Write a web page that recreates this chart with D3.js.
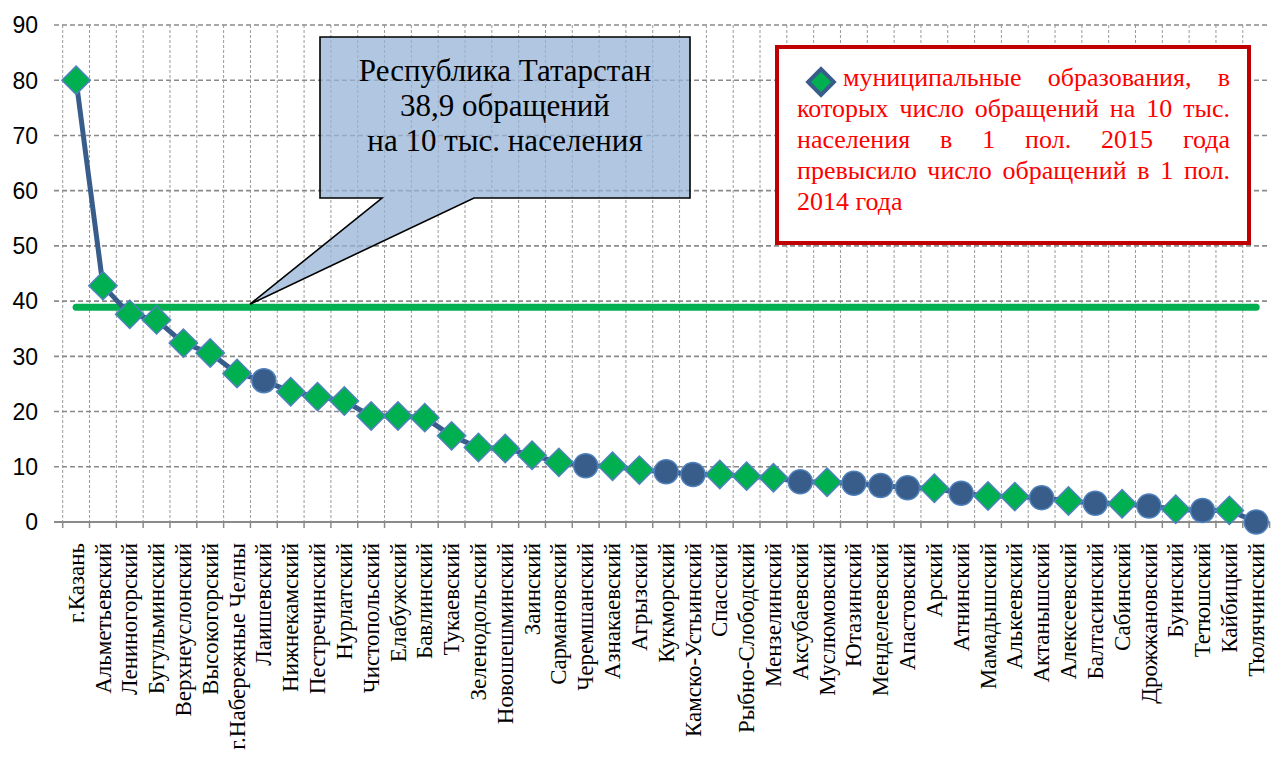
<!DOCTYPE html>
<html>
<head>
<meta charset="utf-8">
<script src="https://cdn.jsdelivr.net/npm/d3@7"></script>
<style>
  body { margin: 0; background: #fff; }
  svg { display: block; }
</style>
</head>
<body>
<div id="chart"></div>
<script>
const categories = ["г.Казань", "Альметьевский", "Лениногорский", "Бугульминский", "Верхнеуслонский",
    "Высокогорский", "г.Набережные Челны", "Лаишевский", "Нижнекамский", "Пестречинский",
    "Нурлатский", "Чистопольский", "Елабужский", "Бавлинский", "Тукаевский",
    "Зеленодольский", "Новошешминский", "Заинский", "Сармановский", "Черемшанский",
    "Азнакаевский", "Агрызский", "Кукморский", "Камско-Устьинский", "Спасский",
    "Рыбно-Слободский", "Мензелинский", "Аксубаевский", "Муслюмовский", "Ютазинский",
    "Менделеевский", "Апастовский", "Арский", "Атнинский", "Мамадышский",
    "Алькеевский", "Актанышский", "Алексеевский", "Балтасинский", "Сабинский",
    "Дрожжановский", "Буинский", "Тетюшский", "Кайбицкий", "Тюлячинский"];

const values = [80.0, 42.8, 37.6, 36.6, 32.4, 30.6, 26.9, 25.6, 23.6, 22.7,
    21.9, 19.2, 19.2, 18.9, 15.6, 13.5, 13.3, 12.1, 10.8, 10.2,
    10.1, 9.4, 9.1, 8.6, 8.6, 8.3, 8.0, 7.3, 7.2, 7.0,
    6.6, 6.2, 6.1, 5.2, 4.7, 4.6, 4.4, 3.8, 3.4, 3.3,
    2.9, 2.3, 2.1, 2.1, 0.0];

// 1 = число обращений выросло (ромб), 0 = нет (круг)
const grew = [1, 1, 1, 1, 1, 1, 1, 0, 1, 1,
    1, 1, 1, 1, 1, 1, 1, 1, 1, 0,
    1, 1, 0, 0, 1, 1, 1, 0, 1, 0,
    0, 0, 1, 0, 1, 1, 0, 1, 0, 1,
    0, 1, 0, 1, 0];

const rtValue = 38.9;
const yTicks = [0, 10, 20, 30, 40, 50, 60, 70, 80, 90];

const calloutLines = ["Республика Татарстан", "38,9 обращений", "на 10 тыс. населения"];
const legendLines = ["муниципальные образования, в", "которых число обращений на 10 тыс.",
    "населения в 1 пол. 2015 года", "превысило число обращений в 1 пол.", "2014 года"];

const serif = "'Liberation Serif', 'Times New Roman', serif";

let width = 1271, height = 763;

const svg = d3.select("#chart").append("svg")
    .attr("width", width)
    .attr("height", height);

const x = d3.scaleBand()
    .domain(categories)
    .range([62.7, 1269.6]);

const y = d3.scaleLinear()
    .domain([0, 90])
    .range([522, 25]);

const cx = d => x(d) + x.bandwidth() / 2;

// vertical grid at category borders
svg.append("g")
    .selectAll("line")
    .data(categories)
    .enter().append("line")
    .attr("x1", d => x(d)).attr("x2", d => x(d))
    .attr("y1", y(90)).attr("y2", y(0))
    .attr("stroke", "#9a9a9a")
    .attr("stroke-width", 1)
    .attr("stroke-dasharray", "3,2");

// horizontal grid
svg.append("g")
    .selectAll("line")
    .data(yTicks.filter(t => t > 0))
    .enter().append("line")
    .attr("x1", 54).attr("x2", 1269)
    .attr("y1", d => y(d)).attr("y2", d => y(d))
    .attr("stroke", "#8a8a8a")
    .attr("stroke-width", 1.6)
    .attr("stroke-dasharray", "5,3");

// y labels
svg.append("g")
    .selectAll("text")
    .data(yTicks)
    .enter().append("text")
    .attr("x", 38)
    .attr("y", d => y(d))
    .attr("dy", "0.36em")
    .attr("text-anchor", "end")
    .attr("font-family", "'Liberation Sans', Arial, sans-serif")
    .attr("font-size", "23px")
    .attr("fill", "#000")
    .text(d => d);

// x axis line and ticks
svg.append("line")
    .attr("x1", 54).attr("x2", 1270)
    .attr("y1", y(0)).attr("y2", y(0))
    .attr("stroke", "#8a8a8a")
    .attr("stroke-width", 2);

svg.append("g")
    .selectAll("line")
    .data(categories.concat(["_end"]))
    .enter().append("line")
    .attr("x1", (d, i) => 62.7 + i * x.bandwidth())
    .attr("x2", (d, i) => 62.7 + i * x.bandwidth())
    .attr("y1", y(0)).attr("y2", y(0) + 6)
    .attr("stroke", "#8a8a8a")
    .attr("stroke-width", 1.5);

// category labels
svg.append("g")
    .selectAll("text")
    .data(categories)
    .enter().append("text")
    .attr("transform", d => "translate(" + cx(d) + "," + 543 + ") rotate(-90)")
    .attr("dy", "0.33em")
    .attr("text-anchor", "end")
    .attr("font-family", serif)
    .attr("font-size", "23px")
    .attr("fill", "#000")
    .text(d => d);

// Tatarstan average line
svg.append("path")
    .datum(categories)
    .attr("d", d3.line().x(d => cx(d)).y(() => y(rtValue)))
    .attr("fill", "none")
    .attr("stroke", "#00b050")
    .attr("stroke-width", 7)
    .attr("stroke-linecap", "round");

// main series
svg.append("path")
    .datum(values)
    .attr("d", d3.line().x((d, i) => cx(categories[i])).y(d => y(d)))
    .attr("fill", "none")
    .attr("stroke", "#385d8a")
    .attr("stroke-width", 5)
    .attr("stroke-linejoin", "round");

const diamond = d3.symbol().type(d3.symbolSquare).size(400);

const marks = svg.append("g")
    .selectAll("g")
    .data(values)
    .enter().append("g")
    .attr("transform", (d, i) => "translate(" + cx(categories[i]) + "," + y(d) + ")");

marks.filter((d, i) => grew[i] === 1)
    .append("path")
    .attr("d", diamond)
    .attr("transform", "rotate(45)")
    .attr("fill", "#00b050")
    .attr("stroke", "#4f81bd")
    .attr("stroke-width", 1.5);

marks.filter((d, i) => grew[i] === 0)
    .append("circle")
    .attr("r", 12)
    .attr("fill", "#385d8a")
    .attr("stroke", "#4f81bd")
    .attr("stroke-width", 1.5);

// callout
svg.append("path")
    .attr("d", "M320,37 H690 V198 H474 L" + (cx(categories[6]) + 13) + "," + (y(rtValue) - 3) + " L382,198 H320 Z")
    .attr("fill", "#95b3d7")
    .attr("fill-opacity", 0.75)
    .attr("stroke", "#000")
    .attr("stroke-width", 1.6);

svg.append("g")
    .selectAll("text")
    .data(calloutLines)
    .enter().append("text")
    .attr("x", 505)
    .attr("y", (d, i) => 81 + i * 35)
    .attr("text-anchor", "middle")
    .attr("font-family", serif)
    .attr("font-size", "31px")
    .attr("fill", "#000")
    .text(d => d);

// legend box
svg.append("rect")
    .attr("x", 777).attr("y", 47)
    .attr("width", 472).attr("height", 196)
    .attr("fill", "#fff")
    .attr("stroke", "#c00000")
    .attr("stroke-width", 4);

svg.append("path")
    .attr("d", d3.symbol().type(d3.symbolSquare).size(330))
    .attr("transform", "translate(821,82) rotate(45)")
    .attr("fill", "#00b050")
    .attr("stroke", "#385d8a")
    .attr("stroke-width", 4);

const legendLeft = 797, legendRight = 1230;
const legend = svg.append("g")
    .attr("font-family", serif)
    .attr("font-size", "26px")
    .attr("fill", "#ff0000");

legendLines.forEach((line, i) => {
    const words = line.split(" ");
    const start = i === 0 ? 843 : legendLeft;
    const yy = 86 + i * 31;
    const last = i === legendLines.length - 1;
    const texts = words.map(w => legend.append("text").attr("y", yy).text(w));
    const widths = texts.map(t => t.node().getComputedTextLength());
    const total = d3.sum(widths);
    const gap = last ? 6.5 : (legendRight - start - total) / (words.length - 1);
    let pos = start;
    texts.forEach((t, k) => {
        t.attr("x", pos);
        pos += widths[k] + gap;
    });
});
</script>
</body>
</html>
